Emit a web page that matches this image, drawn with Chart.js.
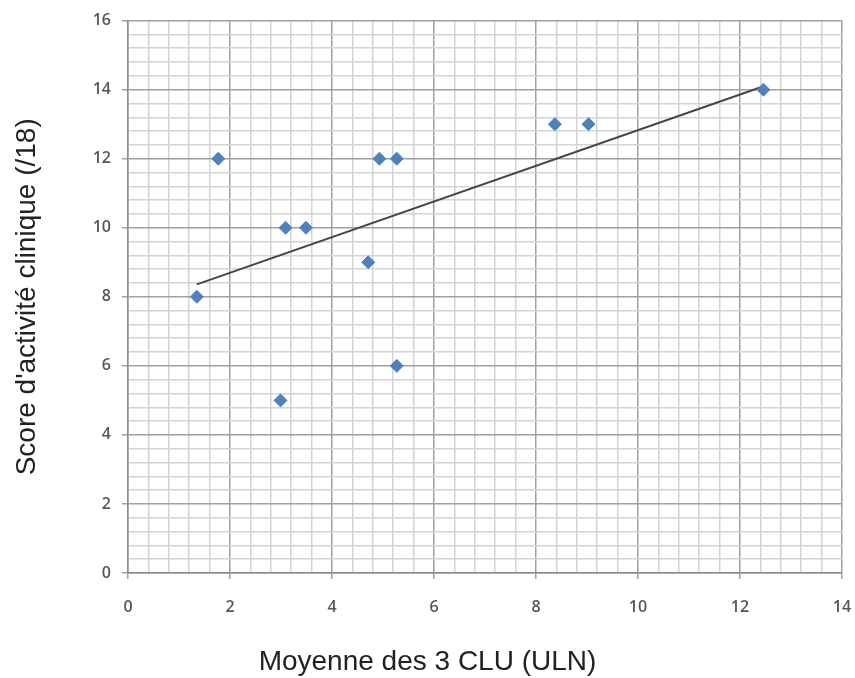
<!DOCTYPE html>
<html><head><meta charset="utf-8">
<script src="https://cdn.jsdelivr.net/npm/chart.js@4/dist/chart.umd.min.js"></script>
<style>html,body{margin:0;padding:0;background:#fff}#wrap{width:855px;height:678px}</style>
</head><body><div id="wrap"><canvas id="c" width="855" height="678"></canvas></div>
<script>
// Data
const xValues = [1.35, 1.77, 2.99, 3.09, 3.49, 4.71, 4.93, 5.27, 5.27, 8.37, 9.03, 12.46];
const yValues = [8, 12, 5, 10, 10, 9, 12, 12, 6, 13, 13, 14];
const trendX = [1.35, 12.45];
const trendY = [8.36, 14.09];
const xTickLabels = ['0', '2', '4', '6', '8', '10', '12', '14'];
const yTickLabels = ['0', '2', '4', '6', '8', '10', '12', '14', '16'];
const xTitle = 'Moyenne des 3 CLU (ULN)';
const yTitle = "Score d'activité clinique (/18)";

const isMajor = v => Math.abs(v / 2 - Math.round(v / 2)) < 1e-6;
const majorColor = '#a0a0a0';
const minorColor = '#d4d4d4';
const tickFont = { family: 'Open Sans', size: 16, weight: '600' };

const points = xValues.map((x, i) => ({ x: x, y: yValues[i] }));
const trend = trendX.map((x, i) => ({ x: x, y: trendY[i] }));

new Chart(document.getElementById('c'), {
  type: 'scatter',
  data: {
    datasets: [
      {
        data: points,
        pointStyle: 'rectRot',
        pointRadius: 6.5,
        pointBorderWidth: 1,
        backgroundColor: '#4F81BD',
        borderColor: '#4F81BD',
        order: 1
      },
      {
        data: trend,
        showLine: true,
        pointRadius: 0,
        borderColor: '#454545',
        borderWidth: 2,
        order: 2
      }
    ]
  },
  options: {
    responsive: false,
    animation: false,
    devicePixelRatio: 1,
    layout: { padding: { top: 18, left: 0, right: 0, bottom: 0 } },
    plugins: {
      legend: { display: false },
      tooltip: { enabled: false },
      title: {
        display: true,
        position: 'bottom',
        text: xTitle,
        color: '#222',
        font: { family: 'Liberation Sans', size: 28, weight: 'normal', lineHeight: 1 },
        padding: { top: 0, bottom: 1.5 }
      }
    },
    scales: {
      x: {
        type: 'linear',
        min: 0, max: 14,
        ticks: {
          stepSize: 0.4,
          autoSkip: false,
          maxRotation: 0,
          maxTicksLimit: 100,
          padding: 19,
          color: '#575757',
          font: tickFont,
          callback: v => isMajor(v) ? xTickLabels[Math.round(v / 2)] : ''
        },
        grid: {
          color: c => (c.tick && isMajor(c.tick.value)) ? majorColor : minorColor,
          lineWidth: 1.5,
          tickLength: 6,
          tickColor: c => (c.tick && isMajor(c.tick.value)) ? majorColor : 'rgba(0,0,0,0)'
        },
        border: { color: '#8c8c8c', width: 1.5 },
        afterFit: s => { s.height = 75.5; s.paddingRight = 13; }
      },
      y: {
        type: 'linear',
        min: 0, max: 16,
        ticks: {
          stepSize: 0.4,
          autoSkip: false,
          maxTicksLimit: 100,
          padding: 11,
          color: '#575757',
          font: tickFont,
          callback: v => isMajor(v) ? yTickLabels[Math.round(v / 2)] : ''
        },
        grid: {
          color: c => (c.tick && isMajor(c.tick.value)) ? majorColor : minorColor,
          lineWidth: 1.5,
          tickLength: 6,
          tickColor: c => (c.tick && isMajor(c.tick.value)) ? majorColor : 'rgba(0,0,0,0)'
        },
        border: { color: '#8c8c8c', width: 1.5 },
        title: {
          display: true,
          text: yTitle,
          color: '#222',
          font: { family: 'Liberation Sans', size: 28, weight: 'normal', lineHeight: 1 },
          padding: { top: 12.8, bottom: 0 }
        },
        afterFit: s => { s.width = 128; }
      }
    }
  }
});
</script>
</body></html>
